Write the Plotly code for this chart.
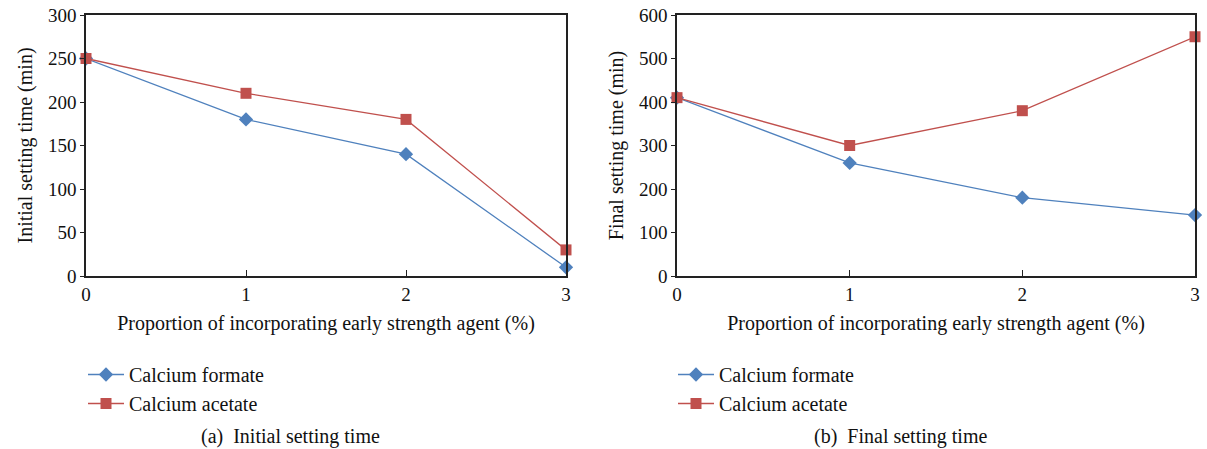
import plotly.graph_objects as go

proportion = [0, 1, 2, 3]
initial_formate = [250, 180, 140, 10]
initial_acetate = [250, 210, 180, 30]
final_formate = [410, 260, 180, 140]
final_acetate = [410, 300, 380, 550]

BLUE = "#4F81BD"
RED = "#C0504D"
FONT = "Liberation Serif, DejaVu Serif, Times New Roman, serif"
W, H = 1207, 449

fig = go.Figure()

def add_pair(xa, ya, yf, ya_, legend):
    fig.add_trace(go.Scatter(x=proportion, y=yf, mode="lines+markers", name="Calcium formate",
                             line=dict(color=BLUE, width=1.3),
                             marker=dict(symbol="diamond", size=11, color=BLUE),
                             xaxis=xa, yaxis=ya, legend=legend, cliponaxis=False))
    fig.add_trace(go.Scatter(x=proportion, y=ya_, mode="lines+markers", name="Calcium acetate",
                             line=dict(color=RED, width=1.3),
                             marker=dict(symbol="square", size=11, color=RED),
                             xaxis=xa, yaxis=ya, legend=legend, cliponaxis=False))

add_pair("x", "y", initial_formate, initial_acetate, "legend")
add_pair("x2", "y2", final_formate, final_acetate, "legend2")

ytop = 1 - 15 / H
ybot = 1 - 276 / H

axis_common = dict(showline=True, mirror=True, linecolor="#222", linewidth=1.5,
                   showgrid=False, zeroline=False, automargin=False,
                   tickfont=dict(family=FONT, size=19, color="#111"))

xtitle = dict(text="Proportion of incorporating early strength agent (%)",
              font=dict(family=FONT, size=20), standoff=12)

fig.update_layout(
    width=W, height=H,
    margin=dict(l=0, r=0, t=0, b=0, autoexpand=False),
    plot_bgcolor="white", paper_bgcolor="white",
    font=dict(family=FONT, size=19, color="#111"),
    xaxis=dict(domain=[86 / W, 566 / W], range=[0, 3], tickvals=proportion,
               ticks="inside", ticklen=6, tickcolor="#222",
               title=xtitle, anchor="y", **axis_common),
    yaxis=dict(domain=[ybot, ytop], range=[0, 300], dtick=50,
               ticks="outside", ticklen=4, tickcolor="#222",
               title=dict(text="Initial setting time (min)", font=dict(family=FONT, size=20), standoff=10),
               anchor="x", **axis_common),
    xaxis2=dict(domain=[677 / W, 1195 / W], range=[0, 3], tickvals=proportion,
                ticks="inside", ticklen=6, tickcolor="#222",
                title=xtitle, anchor="y2", **axis_common),
    yaxis2=dict(domain=[ybot, ytop], range=[0, 600], dtick=100,
                ticks="outside", ticklen=4, tickcolor="#222",
                title=dict(text="Final setting time (min)", font=dict(family=FONT, size=20), standoff=10),
                anchor="x2", **axis_common),
    legend=dict(x=83 / W, y=1 - 355 / H, xanchor="left", yanchor="top",
                font=dict(family=FONT, size=20), tracegroupgap=0, itemwidth=36,
                bgcolor="rgba(0,0,0,0)"),
    legend2=dict(x=673 / W, y=1 - 355 / H, xanchor="left", yanchor="top",
                 font=dict(family=FONT, size=20), tracegroupgap=0, itemwidth=36,
                 bgcolor="rgba(0,0,0,0)"),
    annotations=[
        dict(text="(a)&nbsp;&nbsp;Initial setting time", x=290 / W, y=1 - 436 / H, xref="paper", yref="paper",
             showarrow=False, font=dict(family=FONT, size=20), xanchor="center", yanchor="middle"),
        dict(text="(b)&nbsp;&nbsp;Final setting time", x=900 / W, y=1 - 436 / H, xref="paper", yref="paper",
             showarrow=False, font=dict(family=FONT, size=20), xanchor="center", yanchor="middle"),
    ],
)

fig.write_html("out.html", config={"displayModeBar": False},
               post_script="document.body.style.margin='0';document.body.style.padding='0';")
